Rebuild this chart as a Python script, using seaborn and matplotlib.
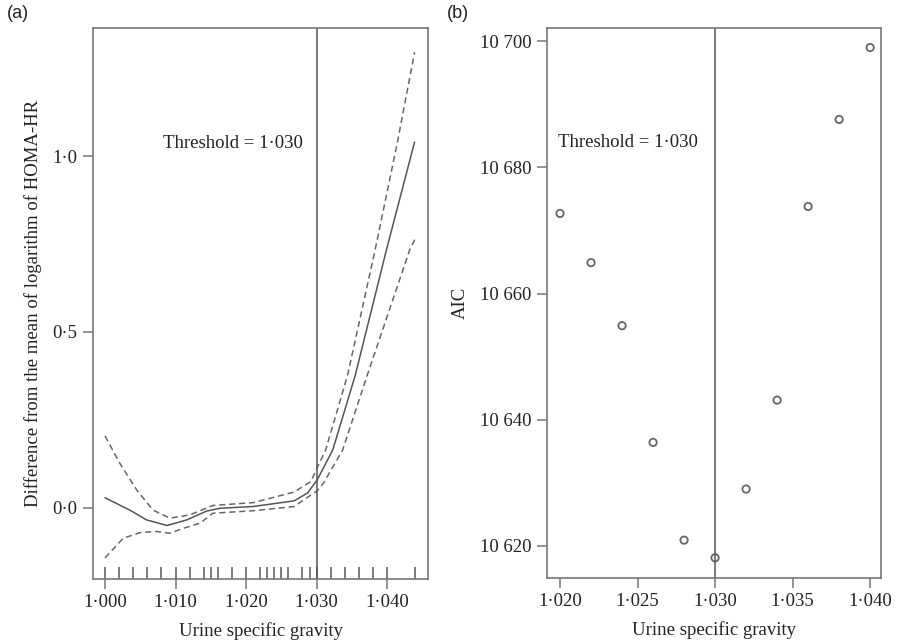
import numpy as np
import pandas as pd
import matplotlib
matplotlib.use("Agg")
import matplotlib.pyplot as plt
import seaborn as sns

# ---------------- data ----------------
# panel (a): estimated curve and confidence band
fit_x = [1.0000, 1.0035, 1.0059, 1.0088, 1.0116, 1.0144, 1.0163, 1.0210, 1.0268,
         1.0287, 1.0301, 1.0323, 1.0355, 1.0399, 1.0439]
fit_y = [0.029, -0.006, -0.034, -0.050, -0.034, -0.009, -0.001, 0.004, 0.020,
         0.042, 0.080, 0.165, 0.378, 0.733, 1.040]

upper_x = [1.0000, 1.0021, 1.0045, 1.0068, 1.0092, 1.0120, 1.0153, 1.0210, 1.0268,
           1.0292, 1.0301, 1.0313, 1.0344, 1.0383, 1.0415, 1.0439]
upper_y = [0.205, 0.127, 0.051, -0.006, -0.029, -0.020, 0.007, 0.015, 0.045,
           0.075, 0.115, 0.165, 0.378, 0.733, 1.043, 1.295]

lower_x = [1.0000, 1.0026, 1.0050, 1.0073, 1.0092, 1.0111, 1.0135, 1.0153, 1.0210,
           1.0268, 1.0301, 1.0310, 1.0337, 1.0372, 1.0432, 1.0441]
lower_y = [-0.142, -0.086, -0.070, -0.067, -0.072, -0.058, -0.043, -0.015, -0.008,
           0.004, 0.049, 0.071, 0.165, 0.378, 0.733, 0.770]

rug_x = [1.000, 1.002, 1.004, 1.006, 1.008, 1.010, 1.012, 1.014, 1.015, 1.016,
         1.018, 1.020, 1.022, 1.023, 1.024, 1.025, 1.026, 1.028, 1.029, 1.030,
         1.032, 1.034, 1.036, 1.038, 1.040, 1.044]

a_xticks = [1.000, 1.010, 1.020, 1.030, 1.040]
a_xticklabels = ["1·000", "1·010", "1·020", "1·030", "1·040"]
a_yticks = [0.0, 0.5, 1.0]
a_yticklabels = ["0·0", "0·5", "1·0"]

# panel (b): AIC by threshold
aic_x = [1.020, 1.022, 1.024, 1.026, 1.028, 1.030, 1.032, 1.034, 1.036, 1.038, 1.040]
aic_y = [10672.7, 10664.9, 10654.9, 10636.4, 10620.9, 10618.1, 10629.0, 10643.1,
         10673.8, 10687.6, 10699.0]

b_xticks = [1.020, 1.025, 1.030, 1.035, 1.040]
b_xticklabels = ["1·020", "1·025", "1·030", "1·035", "1·040"]
b_yticks = [10620, 10640, 10660, 10680, 10700]
b_yticklabels = ["10 620", "10 640", "10 660", "10 680", "10 700"]

threshold = 1.030
threshold_label = "Threshold = 1·030"
xlabel = "Urine specific gravity"
a_ylabel = "Difference from the mean of logarithm of HOMA-HR"
b_ylabel = "AIC"

# ---------------- style ----------------
sns.set_theme(style="white")
plt.rcParams["font.family"] = ["Liberation Serif", "DejaVu Serif"]
plt.rcParams["axes.edgecolor"] = "#777777"
plt.rcParams["axes.linewidth"] = 1.2

SPINE = "#777777"
LINE = "#555555"
TXT = "#222222"
FS = 13.5

fig = plt.figure(figsize=(8.97, 6.42), dpi=100)
ax1 = fig.add_axes([93 / 897, 1 - 579 / 642, 335 / 897, 551 / 642])
ax2 = fig.add_axes([547 / 897, 1 - 578 / 642, 334 / 897, 550 / 642])

# ---- panel (a) ----
df_fit = pd.DataFrame({"x": fit_x, "y": fit_y})
df_up = pd.DataFrame({"x": upper_x, "y": upper_y})
df_lo = pd.DataFrame({"x": lower_x, "y": lower_y})
sns.lineplot(data=df_fit, x="x", y="y", ax=ax1, color=LINE, linewidth=1.1, sort=False)
sns.lineplot(data=df_up, x="x", y="y", ax=ax1, color="#666666", linewidth=1.1,
             sort=False, dashes=False, linestyle=(0, (4, 2.5)))
sns.lineplot(data=df_lo, x="x", y="y", ax=ax1, color="#666666", linewidth=1.1,
             sort=False, dashes=False, linestyle=(0, (4, 2.5)))
sns.rugplot(x=rug_x, ax=ax1, height=0.022, color="#666666", linewidth=1.2)
ax1.axvline(threshold, color=LINE, linewidth=1.1)
ax1.text(1.0082, 1.037, threshold_label, ha="left", va="center", fontsize=FS, color=TXT)
ax1.set_xlim(0.9983, 1.0458)
ax1.set_ylim(-0.202, 1.364)
ax1.set_xticks(a_xticks)
ax1.set_xticklabels(a_xticklabels)
ax1.set_yticks(a_yticks)
ax1.set_yticklabels(a_yticklabels)
ax1.set_xlabel(xlabel, fontsize=FS, color=TXT, labelpad=8)
ax1.set_ylabel(a_ylabel, fontsize=FS, color=TXT, labelpad=8)

# ---- panel (b) ----
df_aic = pd.DataFrame({"x": aic_x, "y": aic_y})
sns.scatterplot(data=df_aic, x="x", y="y", ax=ax2, marker="o", s=28,
                facecolor="none", edgecolor="#666666", linewidth=1.3)
ax2.axvline(threshold, color=LINE, linewidth=1.1)
ax2.text(1.0199, 10684.0, threshold_label, ha="left", va="center", fontsize=FS, color=TXT)
ax2.set_xlim(1.01916, 1.0407)
ax2.set_ylim(10614.9, 10702.1)
ax2.set_xticks(b_xticks)
ax2.set_xticklabels(b_xticklabels)
ax2.set_yticks(b_yticks)
ax2.set_yticklabels(b_yticklabels)
ax2.set_xlabel(xlabel, fontsize=FS, color=TXT, labelpad=8)
ax2.set_ylabel(b_ylabel, fontsize=FS, color=TXT, labelpad=8)

for ax in (ax1, ax2):
    for s in ax.spines.values():
        s.set_visible(True)
        s.set_color(SPINE)
        s.set_linewidth(1.2)
    ax.tick_params(axis="both", which="major", direction="out", length=7,
                   width=1.1, color=SPINE, labelsize=FS, labelcolor=TXT, pad=4,
                   bottom=True, left=True)
    ax.grid(False)

fig.text(7 / 897, 1 - 14 / 642, "(a)", ha="left", va="center", fontsize=13,
         family=["Liberation Sans", "DejaVu Sans"], color=TXT)
fig.text(447 / 897, 1 - 14 / 642, "(b)", ha="left", va="center", fontsize=13,
         family=["Liberation Sans", "DejaVu Sans"], color=TXT)

fig.savefig("out.png", dpi=100)
